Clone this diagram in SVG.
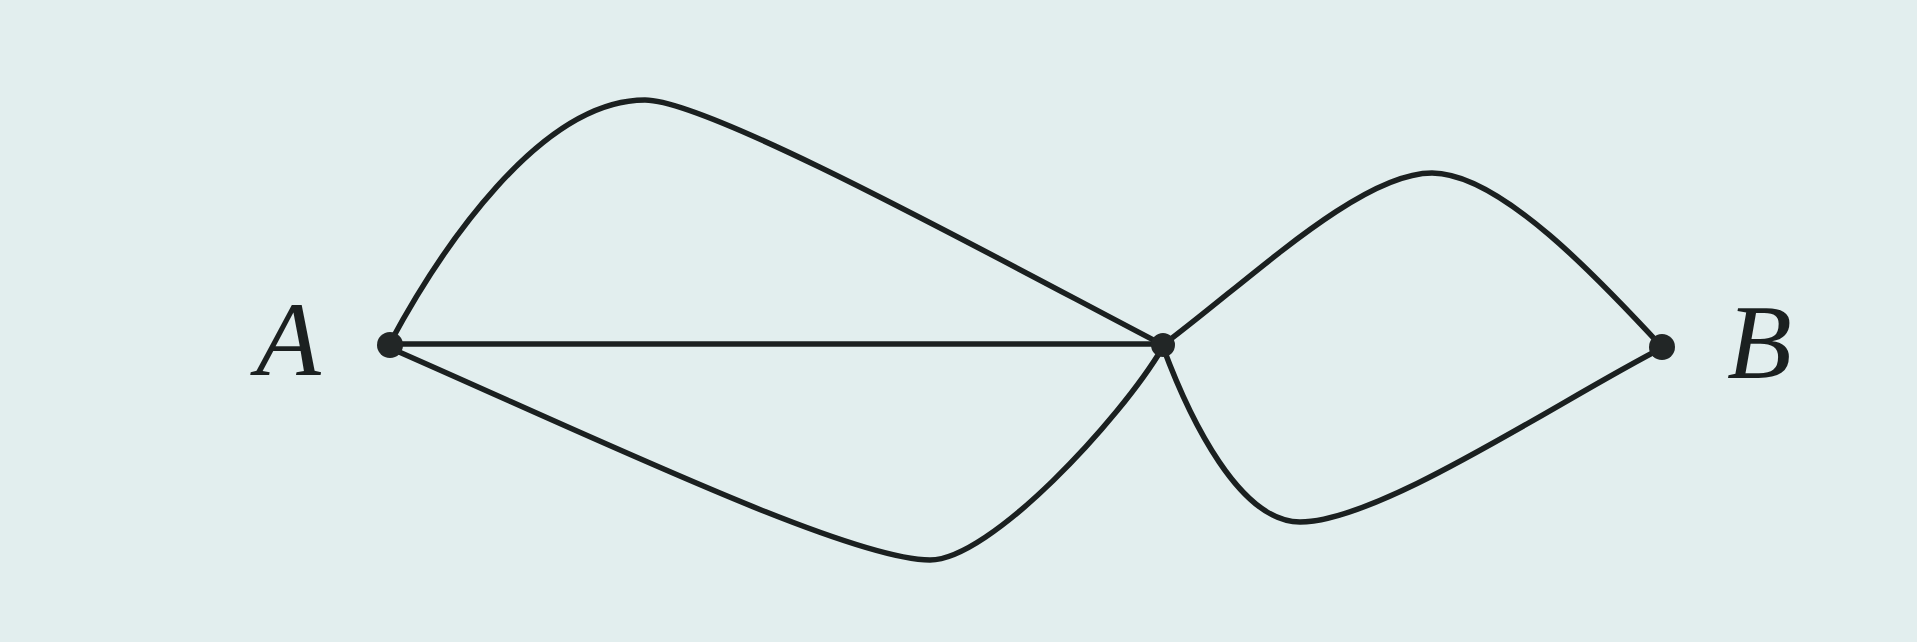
<svg xmlns="http://www.w3.org/2000/svg" width="1917" height="642" viewBox="0 0 1917 642">
<style>
.edge{fill:none;stroke:#1b2020;stroke-width:5.5;stroke-linecap:round}
.dot{fill:#222626}
.lbl{font-family:"Liberation Serif","Times New Roman",serif;font-style:italic;font-size:106px;fill:#1b2020}
</style>
<rect width="1917" height="642" fill="#e2eeee"/>
<g id="edges">
<path class="edge" d="M390 344 L1163 344"/>
<path class="edge" d="M390 343 C440 250 540 100 645 100 C710 100 1000 260 1163 345"/>
<path class="edge" d="M390 348 C600 440 850 560 930 560 C990 560 1120 420 1163 347"/>
<path class="edge" d="M1163 345 C1250 280 1360 173 1432 173 C1500 173 1600 280 1662 347"/>
<path class="edge" d="M1163 347 C1190 420 1240 522 1300 522 C1380 522 1560 400 1662 348"/>
</g>
<g id="nodeA"><circle class="dot" cx="390" cy="345" r="13"/><text class="lbl" x="256" y="375">A</text></g>
<g id="nodeM"><circle class="dot" cx="1163" cy="345" r="12"/></g>
<g id="nodeB"><circle class="dot" cx="1662" cy="347" r="13"/><text class="lbl" x="1727" y="378">B</text></g>
</svg>
